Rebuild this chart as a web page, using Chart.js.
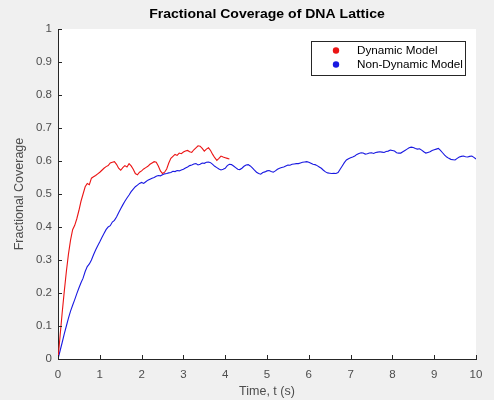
<!DOCTYPE html>
<html>
<head>
<meta charset="utf-8">
<script src="https://cdn.jsdelivr.net/npm/chart.js@4.4.0/dist/chart.umd.min.js"></script>
<style>
  html, body { margin: 0; padding: 0; background: #f0f0f0; }
</style>
</head>
<body>
<canvas id="chart" width="494" height="400"></canvas>
<script>
// time axis, seconds (0.05 s steps)
const times = [
  0.00, 0.05, 0.10, 0.15, 0.20, 0.25, 0.30, 0.35, 0.40, 0.45,
  0.50, 0.55, 0.60, 0.65, 0.70, 0.75, 0.80, 0.85, 0.90, 0.95,
  1.00, 1.05, 1.10, 1.15, 1.20, 1.25, 1.30, 1.35, 1.40, 1.45,
  1.50, 1.55, 1.60, 1.65, 1.70, 1.75, 1.80, 1.85, 1.90, 1.95,
  2.00, 2.05, 2.10, 2.15, 2.20, 2.25, 2.30, 2.35, 2.40, 2.45,
  2.50, 2.55, 2.60, 2.65, 2.70, 2.75, 2.80, 2.85, 2.90, 2.95,
  3.00, 3.05, 3.10, 3.15, 3.20, 3.25, 3.30, 3.35, 3.40, 3.45,
  3.50, 3.55, 3.60, 3.65, 3.70, 3.75, 3.80, 3.85, 3.90, 3.95,
  4.00, 4.05, 4.10, 4.15, 4.20, 4.25, 4.30, 4.35, 4.40, 4.45,
  4.50, 4.55, 4.60, 4.65, 4.70, 4.75, 4.80, 4.85, 4.90, 4.95,
  5.00, 5.05, 5.10, 5.15, 5.20, 5.25, 5.30, 5.35, 5.40, 5.45,
  5.50, 5.55, 5.60, 5.65, 5.70, 5.75, 5.80, 5.85, 5.90, 5.95,
  6.00, 6.05, 6.10, 6.15, 6.20, 6.25, 6.30, 6.35, 6.40, 6.45,
  6.50, 6.55, 6.60, 6.65, 6.70, 6.75, 6.80, 6.85, 6.90, 6.95,
  7.00, 7.05, 7.10, 7.15, 7.20, 7.25, 7.30, 7.35, 7.40, 7.45,
  7.50, 7.55, 7.60, 7.65, 7.70, 7.75, 7.80, 7.85, 7.90, 7.95,
  8.00, 8.05, 8.10, 8.15, 8.20, 8.25, 8.30, 8.35, 8.40, 8.45,
  8.50, 8.55, 8.60, 8.65, 8.70, 8.75, 8.80, 8.85, 8.90, 8.95,
  9.00, 9.05, 9.10, 9.15, 9.20, 9.25, 9.30, 9.35, 9.40, 9.45,
  9.50, 9.55, 9.60, 9.65, 9.70, 9.75, 9.80, 9.85, 9.90, 9.95,
  10.00
];

// Dynamic Model, t = 0 .. 4.1
const dynamicCoverage = [
  0.000, 0.070, 0.140, 0.205, 0.265, 0.318, 0.360, 0.392, 0.405, 0.425,
  0.450, 0.478, 0.500, 0.522, 0.532, 0.528, 0.548, 0.552, 0.556, 0.561,
  0.566, 0.572, 0.578, 0.583, 0.586, 0.594, 0.596, 0.598, 0.590, 0.578,
  0.572, 0.580, 0.586, 0.582, 0.592, 0.585, 0.575, 0.562, 0.558, 0.566,
  0.570, 0.576, 0.580, 0.584, 0.590, 0.594, 0.598, 0.596, 0.585, 0.570,
  0.562, 0.566, 0.576, 0.594, 0.608, 0.614, 0.620, 0.617, 0.624, 0.622,
  0.627, 0.630, 0.632, 0.628, 0.626, 0.634, 0.640, 0.646, 0.645, 0.638,
  0.630, 0.636, 0.640, 0.632, 0.620, 0.610, 0.602, 0.608, 0.615, 0.612,
  0.610, 0.608, 0.606
];

// Non-Dynamic Model, t = 0 .. 10
const nonDynamicCoverage = [
  0.000, 0.025, 0.050, 0.076, 0.100, 0.124, 0.145, 0.163, 0.180, 0.198,
  0.215, 0.231, 0.245, 0.265, 0.280, 0.288, 0.300, 0.316, 0.330, 0.343,
  0.355, 0.368, 0.380, 0.392, 0.400, 0.404, 0.415, 0.420, 0.430, 0.443,
  0.455, 0.467, 0.478, 0.488, 0.497, 0.507, 0.515, 0.522, 0.527, 0.532,
  0.535, 0.532, 0.537, 0.542, 0.545, 0.548, 0.550, 0.554, 0.556, 0.555,
  0.558, 0.561, 0.562, 0.564, 0.565, 0.569, 0.568, 0.571, 0.570, 0.573,
  0.575, 0.579, 0.582, 0.586, 0.588, 0.591, 0.592, 0.588, 0.590, 0.594,
  0.593, 0.596, 0.597, 0.595, 0.590, 0.584, 0.580, 0.576, 0.573, 0.575,
  0.578, 0.586, 0.590, 0.589, 0.585, 0.580, 0.575, 0.574, 0.578, 0.584,
  0.588, 0.589, 0.585, 0.579, 0.572, 0.566, 0.562, 0.560, 0.565, 0.567,
  0.570, 0.571, 0.568, 0.566, 0.570, 0.575, 0.578, 0.580, 0.582, 0.585,
  0.588, 0.587, 0.590, 0.591, 0.592, 0.592, 0.594, 0.596, 0.597, 0.598,
  0.596, 0.593, 0.590, 0.589, 0.586, 0.582, 0.578, 0.572, 0.567, 0.564,
  0.563, 0.562, 0.563, 0.562, 0.565, 0.575, 0.585, 0.595, 0.603, 0.607,
  0.610, 0.612, 0.615, 0.620, 0.623, 0.625, 0.624, 0.621, 0.622, 0.624,
  0.625, 0.623, 0.626, 0.627, 0.628, 0.627, 0.626, 0.629, 0.630, 0.633,
  0.632, 0.630, 0.625, 0.624, 0.624, 0.628, 0.632, 0.636, 0.640, 0.642,
  0.641, 0.638, 0.636, 0.637, 0.633, 0.628, 0.624, 0.626, 0.628, 0.632,
  0.634, 0.636, 0.638, 0.632, 0.625, 0.618, 0.612, 0.608, 0.605, 0.604,
  0.603, 0.608, 0.612, 0.614, 0.615, 0.613, 0.612, 0.614, 0.615, 0.611,
  0.606
];

const seriesNames = ["Dynamic Model", "Non-Dynamic Model"];
const xTicks = [0, 1, 2, 3, 4, 5, 6, 7, 8, 9, 10];
const yTicks = [0, 0.1, 0.2, 0.3, 0.4, 0.5, 0.6, 0.7, 0.8, 0.9, 1];

const FONT = "'Liberation Sans', Arial, Helvetica, sans-serif";
const AXIS_COLOR = "#262626";
const LABEL_COLOR = "#4d4d4d";

function toPoints(xs, ys) {
  return ys.map((y, i) => ({ x: xs[i], y: y }));
}

// white axes area on grey figure
const axesBackground = {
  id: "axesBackground",
  beforeDraw(chart) {
    const { ctx, chartArea: a } = chart;
    ctx.save();
    ctx.fillStyle = "#ffffff";
    ctx.fillRect(a.left, a.top, a.right - a.left, a.bottom - a.top);
    ctx.restore();
  }
};

// inward tick marks like MATLAB
const innerTicks = {
  id: "innerTicks",
  afterDatasetsDraw(chart) {
    const { ctx, chartArea: a, scales } = chart;
    ctx.save();
    ctx.strokeStyle = AXIS_COLOR;
    ctx.lineWidth = 1;
    ctx.beginPath();
    xTicks.forEach(v => {
      const px = Math.round(scales.x.getPixelForValue(v)) + 0.5;
      ctx.moveTo(px, a.bottom);
      ctx.lineTo(px, a.bottom - 4);
    });
    yTicks.forEach(v => {
      const py = Math.round(scales.y.getPixelForValue(v)) + 0.5;
      ctx.moveTo(a.left, py);
      ctx.lineTo(a.left + 4, py);
    });
    ctx.stroke();
    ctx.restore();
  }
};

// title + boxed legend inside the axes
const figureText = {
  id: "figureText",
  afterDraw(chart) {
    const { ctx } = chart;
    ctx.save();
    ctx.fillStyle = "#000000";
    ctx.font = "bold 12px " + FONT;
    ctx.textAlign = "center";
    ctx.textBaseline = "middle";
    ctx.translate(267, 15);
    ctx.scale(1.17, 1);
    ctx.fillText("Fractional Coverage of DNA Lattice", 0, 0);
    ctx.restore();

    ctx.save();
    const bx = 311.5, by = 41.5, bw = 154, bh = 34;
    ctx.fillStyle = "#ffffff";
    ctx.fillRect(bx, by, bw, bh);
    ctx.strokeStyle = AXIS_COLOR;
    ctx.lineWidth = 1;
    ctx.strokeRect(bx, by, bw, bh);

    ctx.font = "11.7px " + FONT;
    ctx.textAlign = "left";
    ctx.textBaseline = "middle";
    chart.data.datasets.forEach((ds, i) => {
      const cy = by + 9 + i * 14;
      ctx.fillStyle = ds.borderColor;
      ctx.beginPath();
      ctx.arc(336, cy, 3.2, 0, Math.PI * 2);
      ctx.fill();
      ctx.fillStyle = "#000000";
      ctx.fillText(ds.label, 357, cy);
    });
    ctx.restore();
  }
};

new Chart(document.getElementById("chart"), {
  type: "line",
  data: {
    datasets: [
      {
        label: seriesNames[0],
        data: toPoints(times, dynamicCoverage),
        borderColor: "rgb(235, 20, 20)",
        borderWidth: 1.1,
        pointRadius: 0,
        tension: 0
      },
      {
        label: seriesNames[1],
        data: toPoints(times, nonDynamicCoverage),
        borderColor: "rgb(25, 25, 225)",
        borderWidth: 1.1,
        pointRadius: 0,
        tension: 0
      }
    ]
  },
  options: {
    responsive: false,
    animation: false,
    layout: { padding: { left: 0, right: 18, top: 29, bottom: 0 } },
    plugins: {
      legend: { display: false },
      tooltip: { enabled: false },
      title: { display: false }
    },
    scales: {
      x: {
        type: "linear",
        min: 0,
        max: 10,
        afterFit(scale) { scale.height = 41; },
        afterBuildTicks(scale) { scale.ticks = xTicks.map(v => ({ value: v })); },
        grid: { display: false, drawTicks: false },
        border: { display: true, color: AXIS_COLOR, width: 1 },
        ticks: {
          color: LABEL_COLOR,
          font: { family: FONT, size: 11.5 },
          padding: 9,
          maxRotation: 0
        },
        title: {
          display: true,
          text: "Time, t (s)",
          color: LABEL_COLOR,
          font: { family: FONT, size: 12.5 },
          padding: { top: 0, bottom: 1 }
        }
      },
      y: {
        type: "linear",
        min: 0,
        max: 1,
        afterFit(scale) { scale.width = 58; },
        afterBuildTicks(scale) { scale.ticks = yTicks.map(v => ({ value: v })); },
        grid: { display: false, drawTicks: false },
        border: { display: true, color: AXIS_COLOR, width: 1 },
        ticks: {
          color: LABEL_COLOR,
          font: { family: FONT, size: 11.5 },
          padding: 6,
          callback: v => String(Math.round(v * 10) / 10)
        },
        title: {
          display: true,
          text: "Fractional Coverage",
          color: LABEL_COLOR,
          font: { family: FONT, size: 12.5 },
          padding: { top: 12, bottom: 0 }
        }
      }
    }
  },
  plugins: [axesBackground, innerTicks, figureText]
});
</script>
</body>
</html>
